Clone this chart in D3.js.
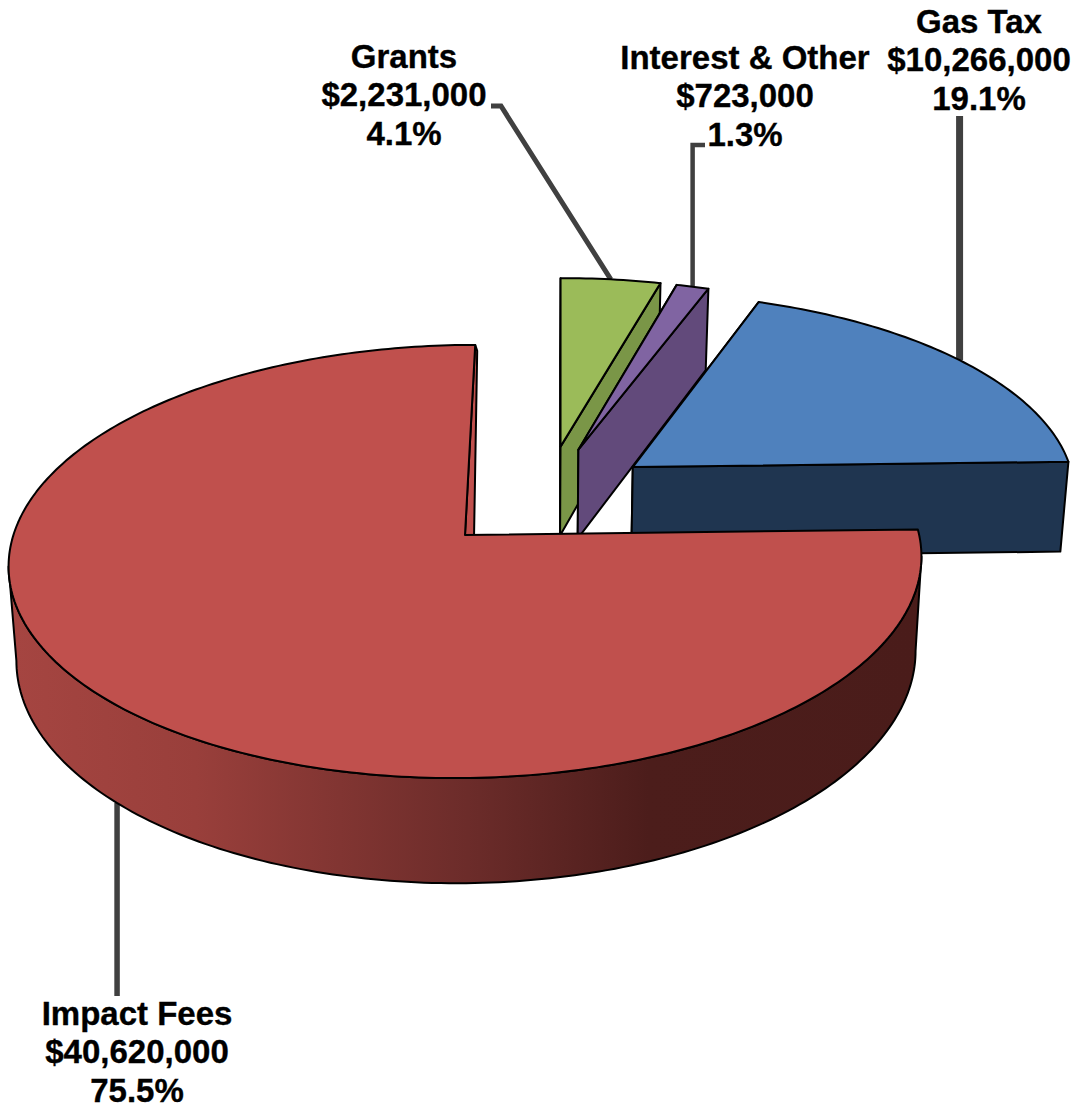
<!DOCTYPE html>
<html>
<head>
<meta charset="utf-8">
<script src="https://cdnjs.cloudflare.com/ajax/libs/d3/7.8.5/d3.min.js"></script>
<style>
  html, body { margin: 0; padding: 0; background: #fff; }
  svg { display: block; }
  text { font-family: "Liberation Sans", Arial, sans-serif; font-weight: 700; font-size: 33px; fill: #000; stroke: #000; stroke-width: 0.35px; text-anchor: middle; }
</style>
</head>
<body>
<svg id="chart" width="1078" height="1114"></svg>
<script>
// Revenue sources, clockwise from the edge of the Gas Tax slice
const sources = ["Gas Tax", "Impact Fees", "Grants", "Interest & Other"];
const amounts = [10266000, 40620000, 2231000, 723000];
const shares  = ["19.1%", "75.5%", "4.1%", "1.3%"];

// Per-slice styling and placement
const topColors  = ["#4f81bd", "#c0504d", "#9bbb59", "#8064a2"];
const wallColors = ["#1f3550", "url(#redWall)", "#7a9647", "#624a7b"];
const explodeU   = [0.385, 0, 0.222, 0.263];
const explodeV   = [0.322, 0, 0.431, 0.414];
const sliceRv    = [0.985, 1, 0.975, 0.98];
const paintOrder = [2, 3, 0, 1];

// Label centres and the point where each leader leaves its label
const labelX    = [979, 137, 404, 745];
const labelBase = [33, 1025, 68, 69];
const lineGap   = 38.3;
const leaderOut = [[[null, 116]], [[null, 996]], [[491, 106], [501, 106]], [[705, 145], [null, 145]]];
const leaderW   = [7, 5.5, 5, 4.5];

const width = 1078, height = 1114;
const cx = 465, cy = 535, Rx = 453, Ry = 213.3;
const persp = 0.1224, depth = 93, depthPow = 1.2, zShrink = 0.015, vanishX = 530, tilt = -0.011;
const startDeg = 21.2;

// Perspective projection of a point on the disc (u right, v away, z downward)
function project(u, v, z = 0) {
  const w = 1 + persp * v;
  const s = 1 - zShrink * z;
  const x0 = cx + Rx * u / w;
  const y0 = cy - Ry * v / w + tilt * Rx * u / w;
  return [vanishX + (x0 - vanishX) * s, cy + (y0 - cy) * s + depth * z / Math.pow(w, depthPow)];
}

const pie = d3.pie().sort(null)
  .startAngle(startDeg * Math.PI / 180)
  .endAngle(startDeg * Math.PI / 180 + 2 * Math.PI);
const arcs = pie(amounts);

const pathOf = d3.line();
const closed = pts => pathOf(pts) + "Z";

function rimPoint(i, angle, z = 0) {
  return project(explodeU[i] + Math.sin(angle), explodeV[i] + sliceRv[i] * Math.cos(angle), z);
}
function rim(i, a0, a1, z = 0) {
  const n = Math.max(8, Math.ceil((a1 - a0) * 60));
  return d3.range(n + 1).map(k => rimPoint(i, a0 + (a1 - a0) * k / n, z));
}

const svg = d3.select("#chart");

// Horizontal shading for the curved wall of the large slice
const defs = svg.append("defs");
const grad = defs.append("linearGradient").attr("id", "redWall")
  .attr("gradientUnits", "userSpaceOnUse")
  .attr("x1", 15).attr("y1", 0).attr("x2", 920).attr("y2", 0);
[[0, "#a54541"], [0.2, "#993f3b"], [0.5, "#6c2c2a"], [0.7, "#4c1d1b"], [1, "#4a1c1a"]]
  .forEach(([o, c]) => grad.append("stop").attr("offset", o).attr("stop-color", c));

const outline = { stroke: "#000", "stroke-width": 2, "stroke-linejoin": "round" };
function styled(sel, fill) {
  sel.attr("fill", fill);
  Object.entries(outline).forEach(([k, v]) => sel.attr(k, v));
  return sel;
}

// Leader lines sit beneath the slices
const leaders = svg.append("g");
arcs.forEach((a, i) => {
  const mid = (a.startAngle + a.endAngle) / 2;
  const onFront = Math.cos(mid) < 0;
  const end = rimPoint(i, mid, onFront ? 1 : 0);
  const pts = leaderOut[i].map(p => [p[0] === null ? end[0] : p[0], p[1]]).concat([end]);
  leaders.append("path").attr("d", pathOf(pts)).attr("fill", "none")
    .attr("stroke", "#404040").attr("stroke-width", leaderW[i]).attr("stroke-linejoin", "miter");
});

// Silhouette of a cylinder: the curved wall only shows between these two bearings
const wallFrom = Math.acos(-persp), wallTo = 2 * Math.PI - wallFrom;

// Slices, far ones first; each is curved wall, radial walls, then the top face
const slices = svg.append("g");
paintOrder.forEach(i => {
  const a = arcs[i];
  const g = slices.append("g");
  const top = rim(i, a.startAngle, a.endAngle, 0);
  const apex = project(explodeU[i], explodeV[i], 0);
  const apexLow = project(explodeU[i], explodeV[i], 1);

  const a0 = Math.max(a.startAngle, wallFrom), a1 = Math.min(a.endAngle, wallTo);
  if (a1 > a0) {
    const upper = rim(i, a0, a1, 0), lower = rim(i, a0, a1, 1);
    styled(g.append("path").attr("d", closed(upper.concat(lower.reverse()))), wallColors[i]);
  }

  const radial = (ang) => closed([apex, rimPoint(i, ang, 0), rimPoint(i, ang, 1), apexLow]);
  if (i !== 1) {
    styled(g.append("path").attr("d", radial(a.startAngle)), wallColors[i]);
    styled(g.append("path").attr("d", radial(a.endAngle)), wallColors[i]);
  } else {
    // The large slice's closing edge shows as a thin strip beside its top face
    const farA = rimPoint(i, a.endAngle, 0);
    styled(g.append("path").attr("d", closed([
      apex, project(0.02, 0, 0), [farA[0] + 2, farA[1] + 6], farA
    ])), topColors[i]);
  }

  styled(g.append("path").attr("d", closed([apex].concat(top))), topColors[i]);
});

// Three-line value labels
const money = d3.format("$,");
const labels = svg.append("g");
sources.forEach((name, i) => {
  [name, money(amounts[i]), shares[i]].forEach((line, k) => {
    labels.append("text").attr("x", labelX[i]).attr("y", labelBase[i] + k * lineGap).text(line);
  });
});
</script>
</body>
</html>
